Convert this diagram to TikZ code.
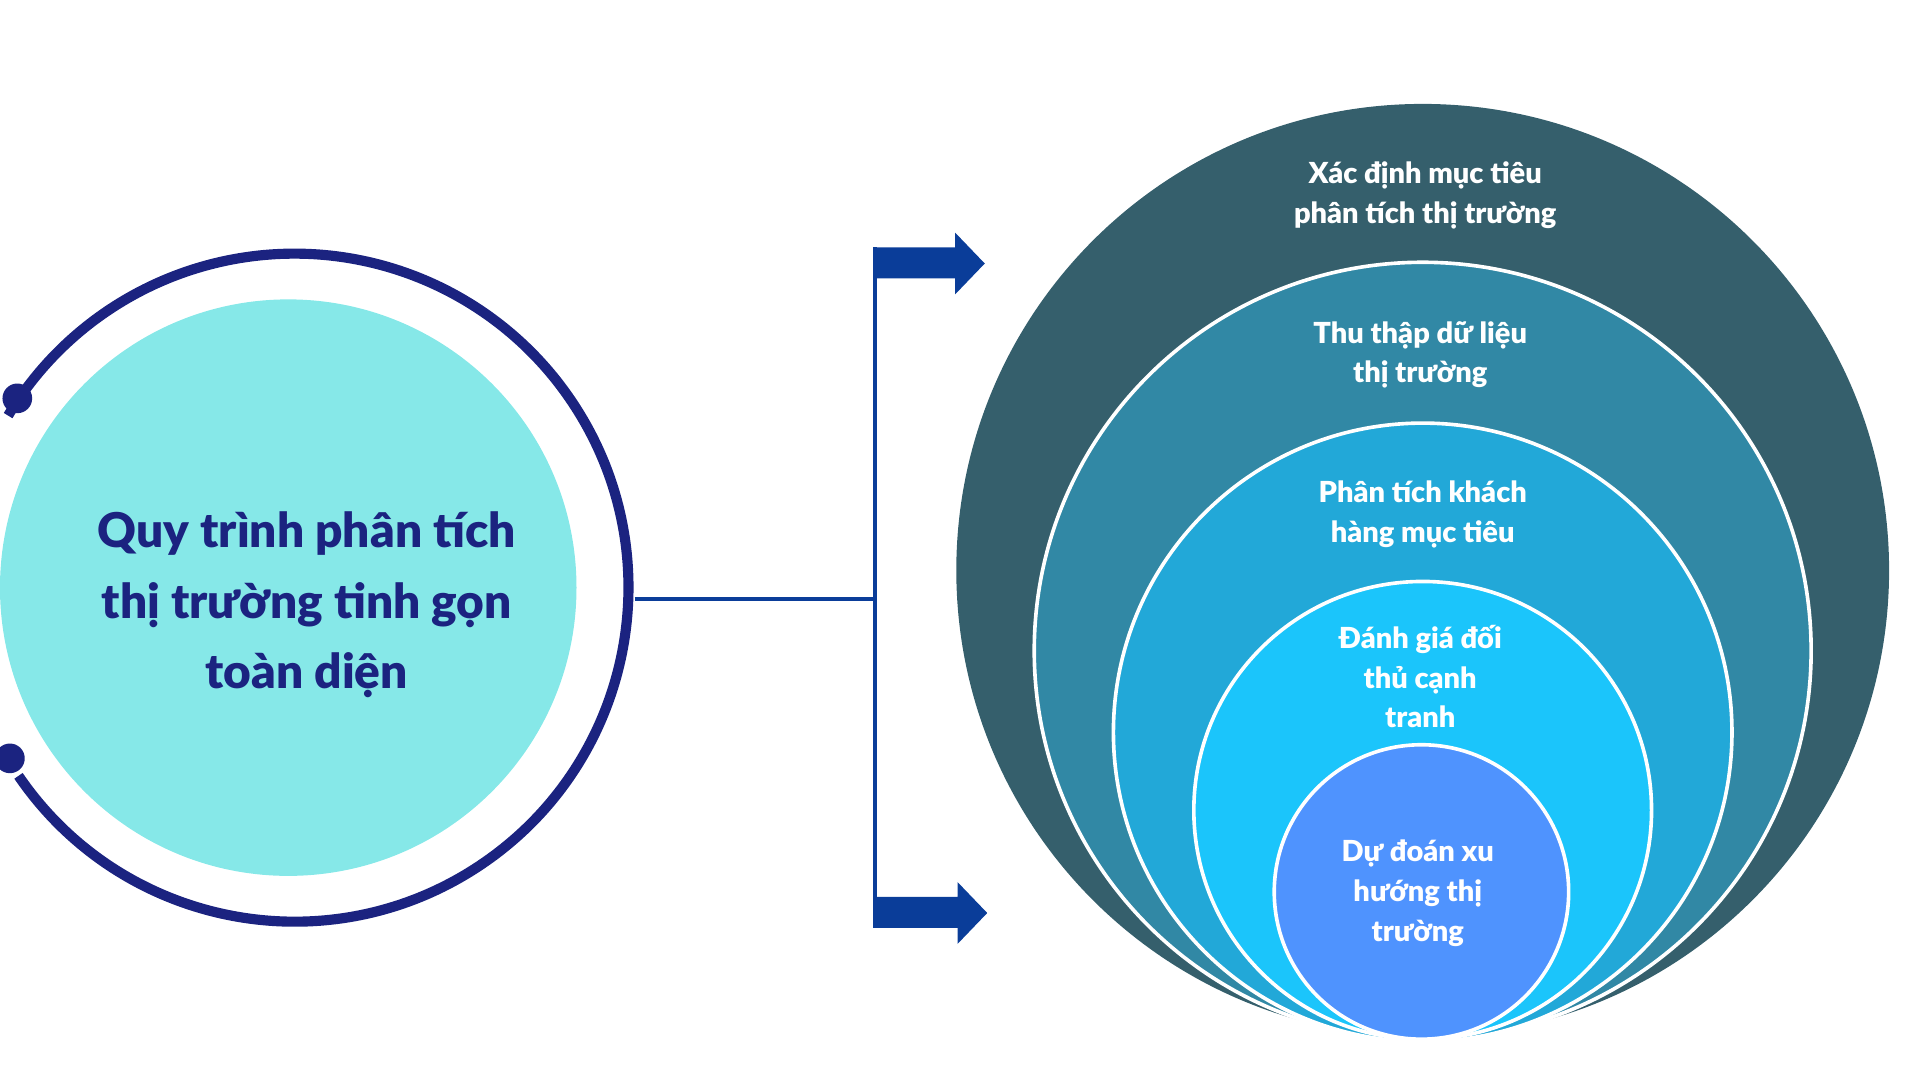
\documentclass[tikz,border=0pt]{standalone}
\usepackage{fontspec}
\setmainfont{Lato}[BoldFont={Lato Black}]
\definecolor{navy}{HTML}{1B2380}
\definecolor{arrowblue}{HTML}{0A3D99}
\definecolor{lcyan}{HTML}{86E8E8}
\definecolor{c1}{HTML}{355F6C}
\definecolor{c2}{HTML}{3188A5}
\definecolor{c3}{HTML}{22A8D8}
\definecolor{c4}{HTML}{1BC5FB}
\definecolor{c5}{HTML}{4F93FE}
\tikzset{
 ring/.style={draw=white, line width=2.5pt},
 lbl/.style={text=white, font=\bfseries\fontsize{20}{27.3}\selectfont, align=center},
}
\begin{document}
\begin{tikzpicture}[x=0.03cm,y=-0.03cm]
\useasboundingbox (0,0) rectangle (1552,873);
% left
\node[circle, fill=lcyan, minimum size=466*0.03cm, inner sep=0] (lc) at (233,475) {};
\draw[navy, line width=7pt] (238,475) ++(145.7:270) arc[start angle=145.7, end angle=-149, radius=270];
\fill[navy] (14,322) circle (12);
\fill[navy] (8,613) circle (12);
\node[text=navy, font=\bfseries\fontsize{33}{48.7}\selectfont, align=center] (lt) at (248,489) {Quy trình phân tích\\thị trường tinh gọn\\toàn diện};
% connectors
\coordinate (h1) at (513,484);
\coordinate (h2) at (707,484);
\draw[arrowblue, line width=2.6pt] (h1) -- (h2);
\coordinate (vt) at (707,200);
\coordinate (vb) at (707,750);
\draw[arrowblue, line width=2.6pt] (vt) -- (vb);
\fill[arrowblue] (706,200) -- (772,200) -- (772,188) -- (796,213) -- (772,238) -- (772,225) -- (706,225) -- cycle;
\fill[arrowblue] (706,725) -- (774,725) -- (774,713) -- (798,738) -- (774,763) -- (774,750) -- (706,750) -- cycle;
% right circles
\fill[c1] (1150,461) circle (377);
\filldraw[fill=c2, ring] (1150,526) circle (314);
\filldraw[fill=c3, ring] (1150,592) circle (250);
\filldraw[fill=c4, ring] (1150,655) circle (185);
\filldraw[fill=c5, ring] (1149,721) circle (119);
\node[lbl] (t1) at (1152,158) {Xác định mục tiêu\\phân tích thị trường};
\node[lbl] (t2) at (1148,287) {Thu thập dữ liệu\\thị trường};
\node[lbl] (t3) at (1150,416) {Phân tích khách\\hàng mục tiêu};
\node[lbl] (t4) at (1148,547) {Đánh giá đối\\thủ cạnh\\tranh};
\node[lbl] (t5) at (1146,722) {Dự đoán xu\\hướng thị\\trường};
\end{tikzpicture}
\end{document}
